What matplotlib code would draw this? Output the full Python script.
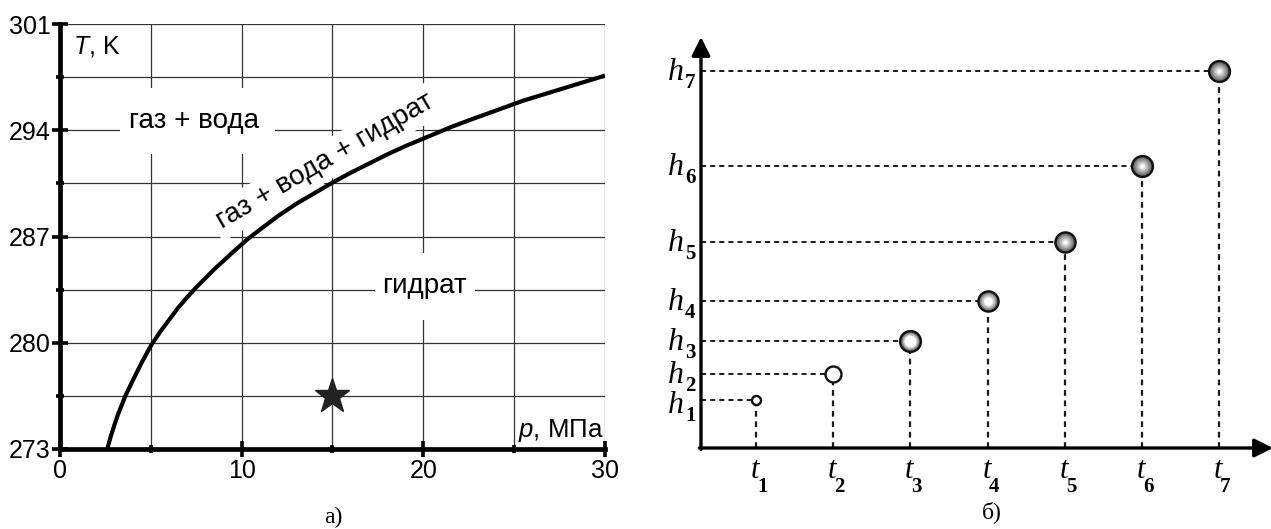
import matplotlib
matplotlib.use("Agg")
import matplotlib.pyplot as plt
import numpy as np
from matplotlib.patches import Rectangle
from matplotlib.colors import to_rgb

# --- phase diagram data (p in MPa, T in K) ---
p_curve = [2.6, 2.8, 3.0, 3.2, 3.4, 3.6, 3.8, 4.0, 4.5, 5.0, 5.5, 6.0, 6.5, 7.0,
           7.5, 8.0, 8.5, 9.0, 9.5, 10.3, 11.0, 12.0, 13.0, 14.0, 15.0, 16.0,
           17.0, 18.0, 19.0, 20.0, 21.5, 22.5, 24.0, 25.5, 27.0, 28.5, 30.0]
T_curve = [273.0, 273.85, 274.6, 275.3, 275.9, 276.5, 277.0, 277.5, 278.7, 279.8,
           280.7, 281.5, 282.3, 283.0, 283.65, 284.25, 284.85, 285.4, 285.95,
           286.8, 287.45, 288.35, 289.15, 289.85, 290.55, 291.2, 291.8, 292.4,
           292.95, 293.45, 294.2, 294.65, 295.3, 295.95, 296.5, 297.05, 297.6]
star_p = [15.0]
star_T = [276.5]
p_ticks = [0, 10, 20, 30]
T_ticks = [273, 280, 287, 294, 301]

# --- measurement levels ---
t_pos = [1, 2, 3, 4, 5, 6, 7]
h_vals = [4.8, 7.4, 10.7, 14.7, 20.6, 28.2, 37.7]
idx_labels = ["1", "2", "3", "4", "5", "6", "7"]

plt.rcParams.update({
    "font.family": ["Liberation Sans", "DejaVu Sans"],
    "font.size": 18,
    "mathtext.fontset": "custom",
    "mathtext.rm": "Liberation Sans",
    "mathtext.it": "Liberation Sans:italic",
    "mathtext.bf": "Liberation Sans:bold",
})

W, H = 1271, 529
PX = 72 / 100  # one pixel in points
fig = plt.figure(figsize=(W / 100, H / 100), dpi=100)

# ================= left panel =================
ax = fig.add_axes([60 / W, (H - 449) / H, 545 / W, 425 / H])
ax.set_xlim(0, 30)
ax.set_ylim(273, 301)
ax.set_xticks(p_ticks)
ax.set_xticks([5, 15, 25], minor=True)
ax.set_yticks(T_ticks)
ax.set_yticks([276.5, 283.5, 290.5, 297.5], minor=True)
ax.grid(which="both", color="#333333", linewidth=0.9)
ax.set_axisbelow(True)
for s in ["top", "right"]:
    ax.spines[s].set_visible(False)
for s in ["left", "bottom"]:
    ax.spines[s].set_linewidth(3.4)
ax.tick_params(which="major", direction="inout", length=11, width=2.6, labelsize=18)
ax.tick_params(which="minor", direction="inout", length=6, width=2.6)
ax.tick_params(axis="y", pad=1)
ax.tick_params(axis="x", pad=2)

# white gaps behind region labels
ax.add_patch(Rectangle((3.3, 292.45), 8.55, 4.35, fc="white", ec="none", zorder=1))
ax.add_patch(Rectangle((17.36, 281.5), 5.5, 4.4, fc="white", ec="none", zorder=1))

ax.plot(p_curve, T_curve, color="black", linewidth=3.0, zorder=3,
        solid_capstyle="butt", solid_joinstyle="round")
ax.plot(star_p, star_T, marker="*", markersize=26, color="#222222", linestyle="none", zorder=4)

ax.text(7.4, 294.6, "газ + вода", ha="center", va="center", fontsize=20, zorder=4)
ax.text(20.05, 283.75, "гидрат", ha="center", va="center", fontsize=20, zorder=4)
ax.text(14.6, 291.95, "газ + вода + гидрат", ha="center", va="center", fontsize=20,
        rotation=30, rotation_mode="anchor", zorder=2,
        bbox=dict(fc="white", ec="none", pad=4))
ax.text(0.7, 299.55, "$T$, K", ha="left", va="center", fontsize=18, zorder=4)
ax.text(29.95, 274.25, "$p$, МПа", ha="right", va="center", fontsize=18.5, zorder=4)

fig.text(333 / W, 1 - 517 / H, "а)", ha="center", va="center",
         fontsize=17, family="Liberation Serif")

# ================= right panel =================
step = 77.2           # pixels between neighbouring t
x0 = 1 - 55 / step    # origin of the time axis
ax2 = fig.add_axes([701 / W, 81 / H, 570 / W, 428 / H])
ax2.set_xlim(x0, x0 + 570 / step)
ax2.set_ylim(0, 42.8)
ax2.set_xticks([])
ax2.set_yticks([])
for s in ax2.spines.values():
    s.set_visible(False)

arrow = dict(arrowstyle="-|>", lw=2.4, color="black", mutation_scale=28,
             shrinkA=0, shrinkB=0)
ax2.annotate("", xy=(x0 + 572 / step, 0), xytext=(x0 - 0.02, 0),
             arrowprops=arrow, annotation_clip=False)
ax2.annotate("", xy=(x0, 41.1), xytext=(x0, -0.15),
             arrowprops=arrow, annotation_clip=False)

dash = (0, (2.6, 2.1))
for t, h in zip(t_pos, h_vals):
    ax2.plot([x0, t], [h, h], color="#1a1a1a", lw=1.4, linestyle=dash, zorder=2)
    ax2.plot([t, t], [0, h], color="#1a1a1a", lw=1.6, linestyle=dash, zorder=2)

# ball markers: (diameter in pt, outer colour, inner colour, core fraction)
ball_style = [
    (6.5, "white", "white", 1.0),
    (11.5, "white", "white", 1.0),
    (15.0, "#3a3a3a", "#ffffff", 0.5),
    (14.5, "#505050", "#ffffff", 0.35),
    (14.5, "#4e4e4e", "#ffffff", 0.12),
    (15.0, "#4e4e4e", "#ffffff", 0.12),
    (15.0, "#4e4e4e", "#ffffff", 0.12),
]
for t, h, (d, c_out, c_in, core) in zip(t_pos, h_vals, ball_style):
    a = np.array(to_rgb(c_out))
    b = np.array(to_rgb(c_in))
    n = 16
    for k in range(n):
        f = k / (n - 1)
        size = d * (1 - f * (1 - core))
        col = a + (b - a) * f ** 0.95
        ax2.plot(t, h, marker="o", markersize=size, color=col, markeredgewidth=0,
                 linestyle="none", zorder=4 + k * 0.01, clip_on=False)
    ax2.plot(t, h, marker="o", markersize=d, markerfacecolor="none",
             markeredgecolor="#111111", markeredgewidth=1.7, linestyle="none",
             zorder=5, clip_on=False)

# axis labels: italic letter with a bold lowered index
serif = "Liberation Serif"
h_drop = [4, 0, 0, 0, 0, 0, 0]  # extra downward shift (px) of the crowded bottom label
for h, i, dy in zip(h_vals, idx_labels, h_drop):
    ax2.annotate("h", xy=(x0, h), xytext=(-17 * PX, -(9 + dy) * PX), textcoords="offset points",
                 ha="right", va="baseline", fontsize=23, family=serif, style="italic",
                 annotation_clip=False)
    ax2.annotate(i, xy=(x0, h), xytext=(-16 * PX, -(17 + dy) * PX), textcoords="offset points",
                 ha="left", va="baseline", fontsize=15, family=serif, weight="bold",
                 annotation_clip=False)
for t, i in zip(t_pos, idx_labels):
    ax2.annotate("t", xy=(t, 0), xytext=(-1 * PX, -30 * PX), textcoords="offset points",
                 ha="center", va="baseline", fontsize=22, family=serif, style="italic",
                 annotation_clip=False)
    ax2.annotate(i, xy=(t, 0), xytext=(1 * PX, -44 * PX), textcoords="offset points",
                 ha="left", va="baseline", fontsize=15, family=serif, weight="bold",
                 annotation_clip=False)

fig.text(992 / W, 1 - 512 / H, "б)", ha="center", va="center",
         fontsize=17, family=serif)

fig.savefig("out.png", dpi=100)
